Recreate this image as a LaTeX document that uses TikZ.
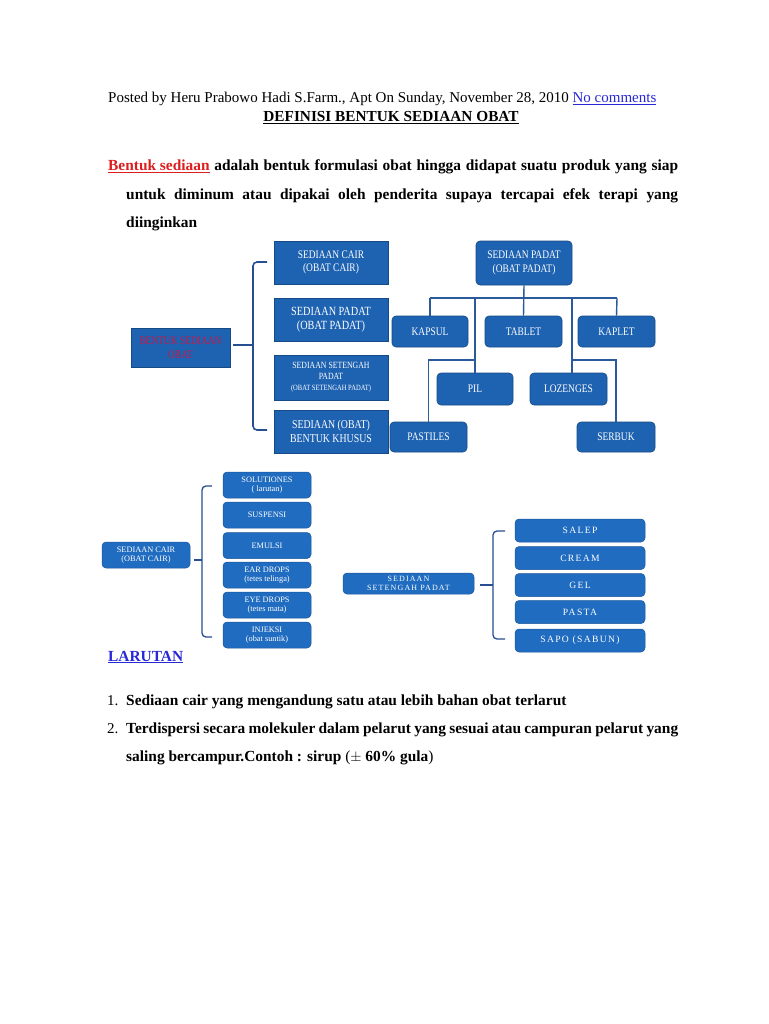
\documentclass[tikz,border=0pt]{standalone}
\usepackage{fontspec}
\setmainfont{Liberation Serif}
\newfontfamily\cond[FakeStretch=0.82]{Liberation Serif}
\newfontfamily\spaced[LetterSpace=14]{Liberation Serif}
\definecolor{boxblueA}{RGB}{30,98,178}
\definecolor{boxblueB}{RGB}{32,108,193}
\definecolor{linkblue}{RGB}{40,40,215}
\definecolor{brk}{RGB}{38,78,145}
\definecolor{treeline}{RGB}{42,90,155}
\definecolor{redtxt}{RGB}{200,25,70}
\definecolor{hdrred}{RGB}{220,30,30}
\tikzset{
  sqbox/.style={fill=boxblueA, draw=boxblueA!75!black, line width=0.6pt, text=white, align=center, inner sep=0pt, font=\cond\fontsize{11.5}{13.5}\selectfont},
  rbox/.style={fill=boxblueA, draw=boxblueA!75!black, line width=0.6pt, rounded corners=4pt, text=white, align=center, inner sep=0pt, font=\cond\fontsize{11.5}{13.5}\selectfont},
  lbox/.style={fill=boxblueB, draw=boxblueB!80!black, line width=0.5pt, rounded corners=4pt, text=white, align=center, inner sep=0pt, minimum width=88pt, minimum height=26pt, font=\fontsize{8.3}{9.6}\selectfont},
  pbox/.style={fill=boxblueB, draw=boxblueB!80!black, line width=0.5pt, rounded corners=4pt, text=white, align=center, inner sep=0pt, minimum width=130pt, minimum height=23pt, font=\spaced\fontsize{9.6}{10.5}\selectfont},
  brace/.style={draw=brk, line width=1.6pt, rounded corners=4pt},
  tree/.style={draw=treeline, line width=1.4pt},
  body/.style={anchor=base west, inner sep=0pt, font=\bfseries\fontsize{15.4}{18}\selectfont},
}
\begin{document}
\begin{tikzpicture}[x=1pt,y=-1pt]
\useasboundingbox[fill=white] (0,0) rectangle (768,1024);

% header
\node[anchor=base west, inner sep=0pt, font=\fontsize{15}{17}\selectfont] (posted) at (108,103)
  {Posted by Heru Prabowo Hadi S.Farm., Apt On Sunday, November 28, 2010 \textcolor{linkblue}{\underline{No comments}}};
\node[anchor=base, inner sep=0pt, font=\bfseries\fontsize{15.3}{17}\selectfont] (title) at (391,122)
  {\underline{DEFINISI BENTUK SEDIAAN OBAT}};

% paragraph
\node[body] (p1) at (108,171) {\makebox[570pt][s]{\textcolor{hdrred}{\underline{Bentuk sediaan}} adalah bentuk formulasi obat hingga didapat suatu produk yang siap}};
\node[body] (p2) at (126,200) {\makebox[552pt][s]{untuk diminum atau dipakai oleh penderita supaya tercapai efek terapi yang}};
\node[body] (p3) at (126,227) {diinginkan};

% ---- diagram 1 (left) ----
\node[sqbox, minimum width=99pt, minimum height=39pt, text=redtxt, font=\cond\fontsize{11.5}{13.5}\selectfont] (bso) at (180.5,347.5) {BENTUK\ SEDIAAN\\OBAT};
\node[sqbox, minimum width=114pt, minimum height=43pt] (cair) at (331,262.5) {SEDIAAN CAIR\\(OBAT CAIR)};
\node[sqbox, minimum width=114pt, minimum height=43pt, font=\cond\fontsize{12.5}{14.5}\selectfont] (padat) at (331,319.5) {SEDIAAN PADAT\\(OBAT PADAT)};
\node[sqbox, minimum width=114pt, minimum height=45pt, font=\cond\fontsize{9.5}{11}\selectfont] (setengah) at (331,377.5) {SEDIAAN SETENGAH\\PADAT\\{\fontsize{8}{10}\selectfont(OBAT SETENGAH PADAT)}};
\node[sqbox, minimum width=114pt, minimum height=43pt, font=\cond\fontsize{12}{14.5}\selectfont] (khusus) at (331,431.5) {SEDIAAN (OBAT)\\BENTUK KHUSUS};
\coordinate (b1t) at (267,262);
\coordinate (b1b) at (267,430);
\coordinate (b1m) at (253,345);
\coordinate (b1tip) at (233,345);
\draw[brace] (b1t) -- (253,262) -- (253,430) -- (b1b);
\draw[brace, rounded corners=0pt] (b1m) -- (b1tip);

% ---- diagram 1 (right tree) ----
\node[rbox, minimum width=96pt, minimum height=44pt] (sp) at (524,263) {SEDIAAN PADAT\\(OBAT PADAT)};
\node[rbox, minimum width=76pt, minimum height=31pt] (kapsul) at (430,331.5) {KAPSUL};
\node[rbox, minimum width=77pt, minimum height=31pt] (tablet) at (523.5,331.5) {TABLET};
\node[rbox, minimum width=77pt, minimum height=31pt] (kaplet) at (616.5,331.5) {KAPLET};
\node[rbox, minimum width=76pt, minimum height=32pt] (pil) at (475,389) {PIL};
\node[rbox, minimum width=77pt, minimum height=32pt] (lozenges) at (568.5,389) {LOZENGES};
\node[rbox, minimum width=77pt, minimum height=30pt] (pastiles) at (428.5,437) {PASTILES};
\node[rbox, minimum width=78pt, minimum height=30pt] (serbuk) at (616,437) {SERBUK};
\coordinate (busL) at (430,298);
\coordinate (busR) at (617,298);
\draw[tree] (busL) -- (busR);
\draw[tree] (sp.south) -- (tablet.north);
\draw[tree] (busL) -- (kapsul.north);
\draw[tree] (busR) -- (kaplet.north);
\draw[tree] (475,298) -- (pil.north);
\draw[tree] (572,298) -- (572,373);
\draw[tree] (475,360) -| (pastiles.north);
\draw[tree] (572,360) -| (serbuk.north);

% ---- diagram 2 (sediaan cair) ----
\node[lbox] (sc) at (146,555) {SEDIAAN CAIR\\(OBAT CAIR)};
\node[lbox] (sol) at (267,485) {SOLUTIONES\\( larutan)};
\node[lbox] (sus) at (267,515) {SUSPENSI};
\node[lbox] (emu) at (267,545.5) {EMULSI};
\node[lbox] (ear) at (267,575) {EAR DROPS\\(tetes telinga)};
\node[lbox] (eye) at (267,605) {EYE DROPS\\(tetes mata)};
\node[lbox] (inj) at (267,635) {INJEKSI\\(obat suntik)};
\coordinate (b2t) at (212,486);
\coordinate (b2b) at (212,637);
\draw[brace, line width=1.3pt] (b2t) -- (202,486) -- (202,637) -- (b2b);
\draw[brace, line width=1.3pt, rounded corners=0pt] (sc.east) ++(4,5) -- (202,560);

% ---- diagram 3 (sediaan setengah padat) ----
\node[pbox, minimum width=131pt, minimum height=21pt, font=\spaced\fontsize{8}{8.3}\selectfont] (ssp) at (408.5,583.5) {SEDIAAN\\SETENGAH PADAT};
\node[pbox] (salep) at (580,530.5) {SALEP};
\node[pbox] (cream) at (580,558) {CREAM};
\node[pbox] (gel) at (580,585) {GEL};
\node[pbox] (pasta) at (580,612) {PASTA};
\node[pbox] (sapo) at (580,640.5) {SAPO (SABUN)};
\coordinate (b3t) at (505,531);
\coordinate (b3b) at (505,639);
\draw[brace, line width=1.3pt] (b3t) -- (493,531) -- (493,639) -- (b3b);
\draw[brace, line width=1.3pt, rounded corners=0pt] (ssp.east) ++(6,1.5) -- (493,585);

% ---- LARUTAN ----
\node[anchor=base west, inner sep=0pt, font=\bfseries\fontsize{15.4}{18}\selectfont, text=linkblue] (lar) at (108,661) {\underline{LARUTAN}};
\node[anchor=base west, inner sep=0pt, font=\fontsize{15}{18}\selectfont] (n1) at (107,705) {1.};
\node[body] (i1) at (126,705) {Sediaan cair yang mengandung satu atau lebih bahan obat terlarut};
\node[anchor=base west, inner sep=0pt, font=\fontsize{15}{18}\selectfont] (n2) at (107,733) {2.};
\node[body] (i2) at (126,733) {\makebox[552pt][s]{Terdispersi secara molekuler dalam pelarut yang sesuai atau campuran pelarut yang}};
\node[body] (i3) at (126,761) {saling bercampur.Contoh : sirup {\mdseries(}{\normalfont$\pm$} 60\% gula{\mdseries)}};
\end{tikzpicture}
\end{document}
